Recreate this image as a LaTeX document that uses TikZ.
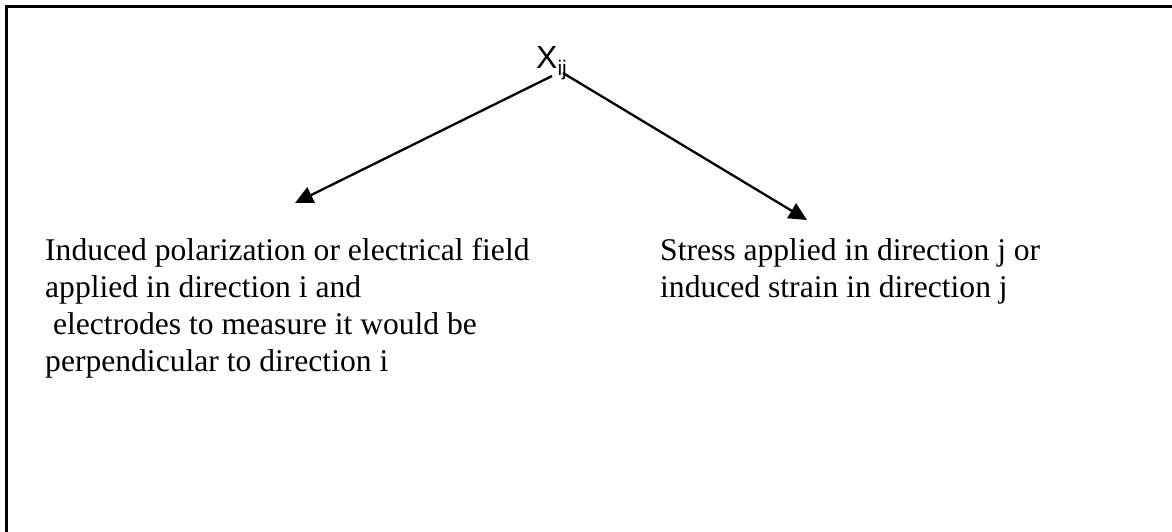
\documentclass[tikz,border=0pt]{standalone}
\usepackage{fontspec}
\setmainfont{Liberation Serif}
\newfontfamily\headfont{Liberation Sans}
\usetikzlibrary{arrows.meta}
\begin{document}
\begin{tikzpicture}[x=1pt,y=-1pt,
  desc/.style={inner sep=0pt, align=left, anchor=base west,
    font=\fontsize{31.6}{37}\selectfont},
  link/.style={line width=2.3pt, -{Triangle[length=18pt,width=17pt]}},
  frame/.style={line width=2.2pt}]
  \useasboundingbox (0,0) rectangle (1172,531);
  % page border (only top and left edges fall inside the sheet)
  \draw[frame] (6.5,540) -- (6.5,6.5) -- (1180,6.5);
  % tensor symbol
  \node[inner sep=0pt, anchor=base west, font=\headfont\fontsize{32}{36}\selectfont]
    (x) at (536,68) {X\raisebox{-7pt}{\fontsize{21}{24}\selectfont ij}};
  \coordinate (ls) at (552,76);
  \coordinate (rs) at (563,73);
  \coordinate (lt) at (295,203);
  \coordinate (rt) at (807,220);
  % explanations of the two indices (anchored at the last baseline)
  \node[desc] (left) at (45,371) {Induced polarization or electrical field\\
    applied in direction i and\\
    \ electrodes to measure it would be\\
    perpendicular to direction i};
  \node[desc] (right) at (660,297) {Stress applied in direction j or\\
    induced strain in direction j};
  \draw[link] (ls) -- (lt);
  \draw[link] (rs) -- (rt);
\end{tikzpicture}
\end{document}
